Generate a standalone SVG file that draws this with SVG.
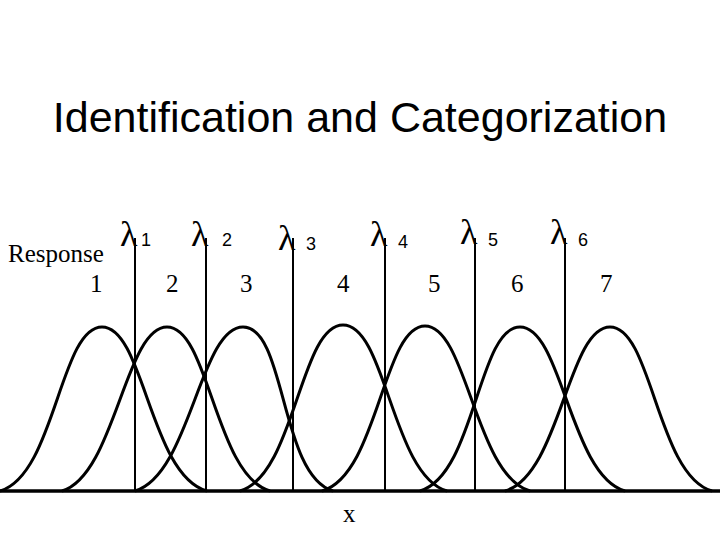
<svg xmlns="http://www.w3.org/2000/svg" width="720" height="540" viewBox="0 0 720 540">
<style>
.c{fill:none;stroke:#000;stroke-width:3}
.v{stroke:#000;stroke-width:2}
.s{font-family:"Liberation Serif",serif;font-size:25px}
.l{font-family:"Liberation Serif",serif;font-size:36px}
.sub{font-family:"Liberation Sans",sans-serif;font-size:18px}
</style>
<rect width="720" height="540" fill="#fff"/>
<text x="360" y="132" text-anchor="middle" font-family="Liberation Sans,sans-serif" font-size="43">Identification and Categorization</text>
<g id="connectors">
<line x1="0" y1="491" x2="720" y2="491" stroke="#000" stroke-width="3.5"/>
<line class="v" x1="135" y1="238" x2="135" y2="491"/>
<line class="v" x1="206" y1="238" x2="206" y2="491"/>
<line class="v" x1="293" y1="238" x2="293" y2="491"/>
<line class="v" x1="385" y1="238" x2="385" y2="491"/>
<line class="v" x1="475" y1="238" x2="475" y2="491"/>
<line class="v" x1="565" y1="238" x2="565" y2="491"/>
<path class="c" d="M0 491C55 475 60 327 102 327S150 475 207 491"/>
<path class="c" d="M62 491C115 475 125 327 167 327S215 475 270 491"/>
<path class="c" d="M135 491C190 475 200 327 243 327S280 475 333 491"/>
<path class="c" d="M240 491C295 475 300 325 343 325S392 475 447 491"/>
<path class="c" d="M322 491C378 475 383 326 425 326S475 475 530 491"/>
<path class="c" d="M420 491C475 475 478 327 520 327S570 475 625 491"/>
<path class="c" d="M505 491C560 475 568 327 610 327S657 475 712 491"/>
</g>
<g id="labels">
<text class="s" x="8" y="262">Response</text>
<text class="s" x="90" y="292">1</text>
<text class="s" x="166" y="292">2</text>
<text class="s" x="240" y="292">3</text>
<text class="s" x="337" y="292">4</text>
<text class="s" x="428" y="292">5</text>
<text class="s" x="511" y="292">6</text>
<text class="s" x="600" y="292">7</text>
<text class="l" x="120" y="246">λ</text><text class="sub" x="141" y="246">1</text>
<text class="l" x="191" y="246">λ</text><text class="sub" x="222" y="246">2</text>
<text class="l" x="278" y="250">λ</text><text class="sub" x="306" y="250">3</text>
<text class="l" x="370" y="246">λ</text><text class="sub" x="398" y="248">4</text>
<text class="l" x="460" y="244">λ</text><text class="sub" x="488" y="246">5</text>
<text class="l" x="550" y="244">λ</text><text class="sub" x="578" y="246">6</text>
<text class="s" x="343" y="522">x</text>
</g>
</svg>
